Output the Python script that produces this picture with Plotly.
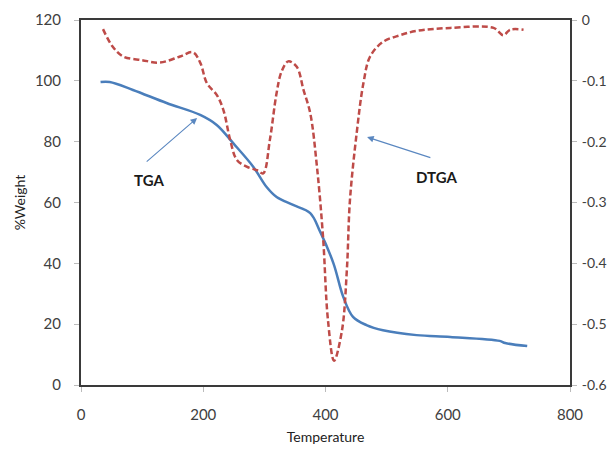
import plotly.graph_objects as go

# TGA curve (% weight vs temperature)
tga_temp = [32, 47, 85, 140, 195, 222, 249, 282, 304, 320, 347, 375, 391, 413, 429, 445,
            467, 494, 549, 604, 685, 694, 730]
tga_weight = [99.6, 99.6, 97, 92.7, 88.8, 85.5, 79.5, 71.7, 65, 61.8, 59.2, 56.5, 50.5, 40, 29, 22.4,
              19.7, 18, 16.4, 15.8, 14.5, 13.8, 12.8]

# DTGA curve (derivative, right axis)
dtga_temp = [36, 52, 69, 100, 129, 162, 183, 195, 206, 222, 233, 244, 255, 271, 288, 298,
             309, 320, 328, 339, 353, 364, 375, 386, 396, 404, 414, 427, 435, 440, 451, 462,
             473, 494, 522, 549, 604, 675, 691, 702, 724]
dtga_value = [-0.015, -0.044, -0.060, -0.066, -0.070, -0.060, -0.053, -0.070, -0.104, -0.123,
              -0.148, -0.197, -0.230, -0.241, -0.247, -0.252, -0.197, -0.120, -0.085, -0.068,
              -0.077, -0.115, -0.153, -0.241, -0.357, -0.493, -0.560, -0.510, -0.410, -0.296,
              -0.186, -0.104, -0.060, -0.036, -0.025, -0.018, -0.013, -0.013, -0.025, -0.016,
              -0.016]

x_ticks = [0, 200, 400, 600, 800]
y_ticks = [0, 20, 40, 60, 80, 100, 120]
y2_ticks = [0, -0.1, -0.2, -0.3, -0.4, -0.5, -0.6]
y2_labels = ["0", "-0.1", "-0.2", "-0.3", "-0.4", "-0.5", "-0.6"]

FONT = "Lato"
AXIS_COLOR = "#3a3a3a"
TICK_FONT = dict(family=FONT, size=15, color="#404040")
TICK_FONT_R = dict(family=FONT, size=14, color="#404040")
TITLE_FONT = dict(family=FONT, size=14, color="#222222")

fig = go.Figure()
fig.add_trace(go.Scatter(x=tga_temp, y=tga_weight, mode="lines", line_shape="spline",
                         line=dict(color="#4A7EBB", width=2.5), name="TGA", yaxis="y"))
fig.add_trace(go.Scatter(x=dtga_temp, y=dtga_value, mode="lines", line_shape="spline",
                         line=dict(color="#BE4B48", width=2.5, dash="6px,3px"), name="DTGA", yaxis="y2"))

arrow_color = "#5A87C0"
fig.add_annotation(x=190, y=87.8, ax=105, ay=73, xref="x", yref="y", axref="x", ayref="y",
                   showarrow=True, arrowhead=2, arrowsize=1.2, arrowwidth=1.1, arrowcolor=arrow_color,
                   text="")
fig.add_annotation(x=111, y=67.4, xref="x", yref="y", text="<b>TGA</b>", showarrow=False,
                   font=dict(family=FONT, size=15, color="#1a1a1a"))
fig.add_annotation(x=468, y=81.5, ax=574, ay=74.6, xref="x", yref="y", axref="x", ayref="y",
                   showarrow=True, arrowhead=2, arrowsize=1.2, arrowwidth=1.1, arrowcolor=arrow_color,
                   text="")
fig.add_annotation(x=582, y=68.4, xref="x", yref="y", text="<b>DTGA</b>", showarrow=False,
                   font=dict(family=FONT, size=15, color="#1a1a1a"))

fig.update_layout(
    width=616, height=452,
    margin=dict(l=73, r=54, t=12, b=75, autoexpand=False),
    paper_bgcolor="white", plot_bgcolor="white",
    showlegend=False,
    xaxis=dict(range=[0, 800], tickvals=x_ticks, ticks="outside", ticklen=5, tickcolor="#bbbbbb",
               ticklabelstandoff=10,
               showline=True, linecolor=AXIS_COLOR, linewidth=2, mirror=True, showgrid=False,
               zeroline=False, tickfont=TICK_FONT,
               title=dict(text="Temperature", font=TITLE_FONT, standoff=10)),
    yaxis=dict(range=[0, 120], tickvals=y_ticks, ticks="outside", ticklen=5, tickcolor="#bbbbbb",
               ticklabelstandoff=10,
               showline=True, linecolor=AXIS_COLOR, linewidth=2, showgrid=False, zeroline=False,
               tickfont=TICK_FONT,
               title=dict(text="%Weight", font=TITLE_FONT, standoff=6)),
    yaxis2=dict(range=[-0.6, 0], tickvals=y2_ticks, ticktext=y2_labels,
                overlaying="y", side="right", ticks="outside", ticklen=5, tickcolor="#bbbbbb",
                ticklabelstandoff=2,
                showline=True, linecolor=AXIS_COLOR, linewidth=2, showgrid=False, zeroline=False,
                tickfont=TICK_FONT_R),
)

fig.write_html("out.html")
